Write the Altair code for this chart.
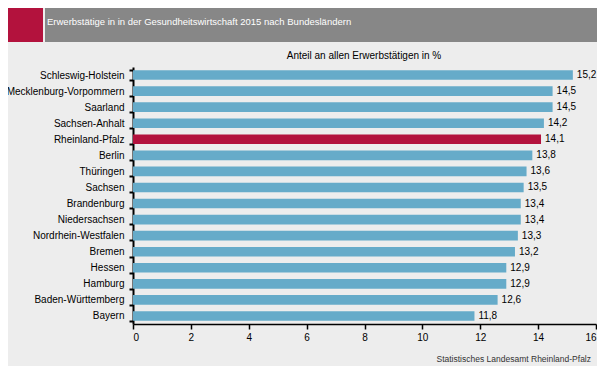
import altair as alt
import pandas as pd

laender = ["Schleswig-Holstein", "Mecklenburg-Vorpommern", "Saarland", "Sachsen-Anhalt",
           "Rheinland-Pfalz", "Berlin", "Thüringen", "Sachsen", "Brandenburg",
           "Niedersachsen", "Nordrhein-Westfalen", "Bremen", "Hessen", "Hamburg",
           "Baden-Württemberg", "Bayern"]
anteil = [15.2, 14.5, 14.5, 14.2, 14.1, 13.8, 13.6, 13.5, 13.4, 13.4, 13.3, 13.2,
          12.9, 12.9, 12.6, 11.8]
highlight = "Rheinland-Pfalz"
x_ticks = [0, 2, 4, 6, 8, 10, 12, 14, 16]

title_text = "Erwerbstätige in in der Gesundheitswirtschaft 2015 nach Bundesländern"
axis_title = "Anteil an allen Erwerbstätigen in %"
source_text = "Statistisches Landesamt Rheinland-Pfalz"

BLUE = "#66abc9"
RED = "#b3123d"
BG = "#ededed"
FONT = "Liberation Sans"

df = pd.DataFrame({"land": laender, "wert": anteil})
df["hl"] = df["land"] == highlight

W, H = 463, 257

base = alt.Chart(df).encode(
    y=alt.Y("land:N", sort=laender, title=None,
            scale=alt.Scale(paddingInner=0.4, paddingOuter=0.2),
            axis=alt.Axis(domainColor="black", domainWidth=2, tickColor="black",
                          tickWidth=2, tickSize=4, tickBand="extent",
                          labelPadding=5, labelFont=FONT, labelFontSize=10,
                          labelColor="black")),
)

bars = base.mark_bar().encode(
    x=alt.X("wert:Q", title=None,
            scale=alt.Scale(domain=[0, 16], nice=False),
            axis=alt.Axis(values=x_ticks, grid=False, domainColor="black",
                          domainWidth=1.5, tickColor="black", tickWidth=1.5,
                          tickSize=5, labelPadding=3, labelFont=FONT,
                          labelFontSize=10, labelColor="black", format="d")),
    color=alt.condition(alt.datum.hl, alt.value(RED), alt.value(BLUE)),
)

labels = base.transform_calculate(
    txt="replace(format(datum.wert, '.1f'), '.', ',')"
).mark_text(align="left", baseline="middle", dx=4, font=FONT, fontSize=10,
            color="black").encode(
    x=alt.X("wert:Q"),
    text="txt:N",
)

deco = pd.DataFrame({"k": [0]})
red_block = alt.Chart(deco).mark_rect(color=RED, clip=False).encode(
    x=alt.value(-125), x2=alt.value(-90), y=alt.value(-59), y2=alt.value(-25))
gray_band = alt.Chart(deco).mark_rect(color="#878787", clip=False).encode(
    x=alt.value(-88), x2=alt.value(470), y=alt.value(-59), y2=alt.value(-25))
title_mark = alt.Chart(deco).mark_text(
    text=title_text, color="white", font=FONT, fontSize=9.5, align="left",
    baseline="middle", clip=False).encode(x=alt.value(-86), y=alt.value(-45))
axis_title_mark = alt.Chart(deco).mark_text(
    text=axis_title, color="black", font=FONT, fontSize=10, align="center",
    baseline="middle", clip=False).encode(x=alt.value(231), y=alt.value(-11))
source_mark = alt.Chart(deco).mark_text(
    text=source_text, color="#333333", font=FONT, fontSize=8.5, align="right",
    baseline="bottom", clip=False).encode(x=alt.value(458), y=alt.value(297))

chart = alt.layer(red_block, gray_band, title_mark, axis_title_mark, bars, labels,
                  source_mark).properties(
    width=W, height=H,
    autosize=alt.AutoSizeParams(type="none"),
    padding={"left": 125, "top": 59, "right": 1, "bottom": 42},
    background=BG,
).configure_view(stroke=None)

chart.save("out.html", embed_options={"renderer": "svg", "actions": False})
